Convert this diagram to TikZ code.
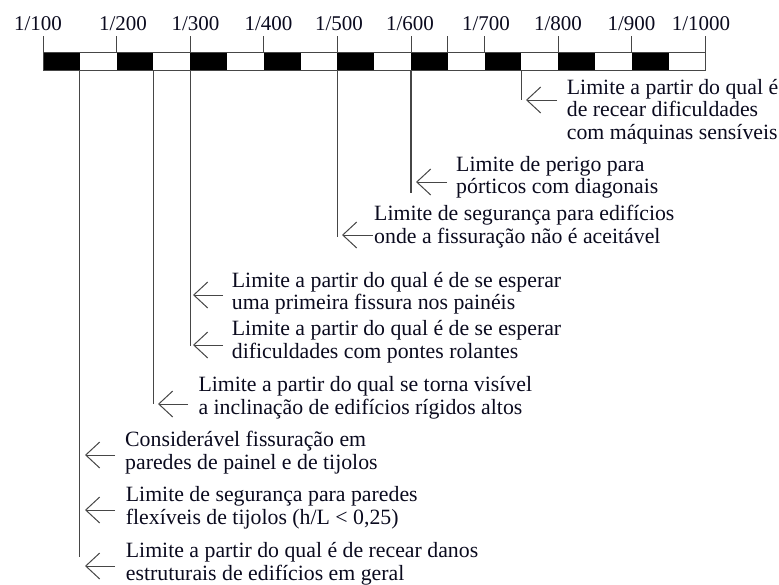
\documentclass[tikz,border=0pt]{standalone}
\usepackage{fontspec}
\setmainfont{Liberation Serif}
\usetikzlibrary{arrows.meta}
\definecolor{lc}{RGB}{70,70,70}
\definecolor{tc}{RGB}{10,10,30}
\begin{document}
\begin{tikzpicture}[x=1pt,y=-1pt,
  lbl/.style={font=\fontsize{21}{21}\selectfont, text=tc, inner sep=0pt, anchor=base},
  txt/.style={font=\fontsize{21.8}{22.5}\selectfont, text=tc, inner sep=0pt, anchor=base west, align=left},
  vline/.style={draw=lc, line width=1.1pt},
  tick/.style={draw=lc, line width=1pt},
  arr/.style={draw=lc, line width=1pt, -{Straight Barb[length=14pt,width=26pt,line width=1pt]}}]
\useasboundingbox (0,0) rectangle (779,584);

% scale bar
\foreach \k in {0,...,8} \fill[black] (43+73.6*\k,52) rectangle ++(36.8,18);
\draw[lc, line width=1pt] (43,52) rectangle (705.4,70);
\foreach \k in {0,...,9} \draw[tick] (43+73.6*\k,36) -- ++(0,16);
\draw[tick] (447.8,36) -- (447.8,52);

% scale labels
\node[lbl] (s1)  at (38,30)  {1/100};
\node[lbl] (s2)  at (123,30) {1/200};
\node[lbl] (s3)  at (195.5,30) {1/300};
\node[lbl] (s4)  at (268.5,30) {1/400};
\node[lbl] (s5)  at (339,30) {1/500};
\node[lbl] (s6)  at (410,30) {1/600};
\node[lbl] (s7)  at (486,30) {1/700};
\node[lbl] (s8)  at (558,30) {1/800};
\node[lbl] (s9)  at (631.5,30) {1/900};
\node[lbl] (s10) at (701,30) {1/1000};

% vertical lines below the bar
\coordinate (v1t) at (79.8,70);  \coordinate (v1b) at (79.8,557);
\coordinate (v2t) at (153.4,70); \coordinate (v2b) at (153.4,404);
\coordinate (v3t) at (190.2,70); \coordinate (v3b) at (190.2,346);
\coordinate (v4t) at (337.4,70); \coordinate (v4b) at (337.4,237);
\coordinate (v5t) at (411,70);   \coordinate (v5b) at (411,193);
\coordinate (v6t) at (521.4,70); \coordinate (v6b) at (521.4,100);
\foreach \i in {1,...,6} \draw[vline] (v\i t) -- (v\i b);

% texts (anchor = baseline of the last line)
\node[txt] (b1) at (566.7,139) {Limite a partir do qual é\\de recear dificuldades\\com máquinas sensíveis};
\node[txt] (b2) at (456,193.5) {Limite de perigo para\\pórticos com diagonais};
\node[txt] (b3) at (374,243) {Limite de segurança para edifícios\\onde a fissuração não é aceitável};
\node[txt] (b4) at (231.7,309.5) {Limite a partir do qual é de se esperar\\uma primeira fissura nos painéis};
\node[txt] (b5) at (231.7,358) {Limite a partir do qual é de se esperar\\dificuldades com pontes rolantes};
\node[txt] (b6) at (198.3,414) {Limite a partir do qual se torna visível\\a inclinação de edifícios rígidos altos};
\node[txt] (b7) at (125,469) {Considerável fissuração em\\paredes de painel e de tijolos};
\node[txt] (b8) at (125.7,524) {Limite de segurança para paredes\\flexíveis de tijolos (h/L < 0,25)};
\node[txt] (b9) at (125.7,580) {Limite a partir do qual é de recear danos\\estruturais de edifícios em geral};

% arrows
\coordinate (a1s) at (557,100); \coordinate (a1e) at (526,100);
\coordinate (a2s) at (447,182); \coordinate (a2e) at (416,182);
\coordinate (a3s) at (373,235); \coordinate (a3e) at (342,235);
\coordinate (a4s) at (223,295); \coordinate (a4e) at (193,295);
\coordinate (a5s) at (223,345); \coordinate (a5e) at (193,345);
\coordinate (a6s) at (188,404); \coordinate (a6e) at (158,404);
\coordinate (a7s) at (115,455); \coordinate (a7e) at (85,455);
\coordinate (a8s) at (115,510); \coordinate (a8e) at (85,510);
\coordinate (a9s) at (115,566); \coordinate (a9e) at (85,566);
\foreach \i in {1,...,9} \draw[arr] (a\i s) -- (a\i e);
\end{tikzpicture}
\end{document}
